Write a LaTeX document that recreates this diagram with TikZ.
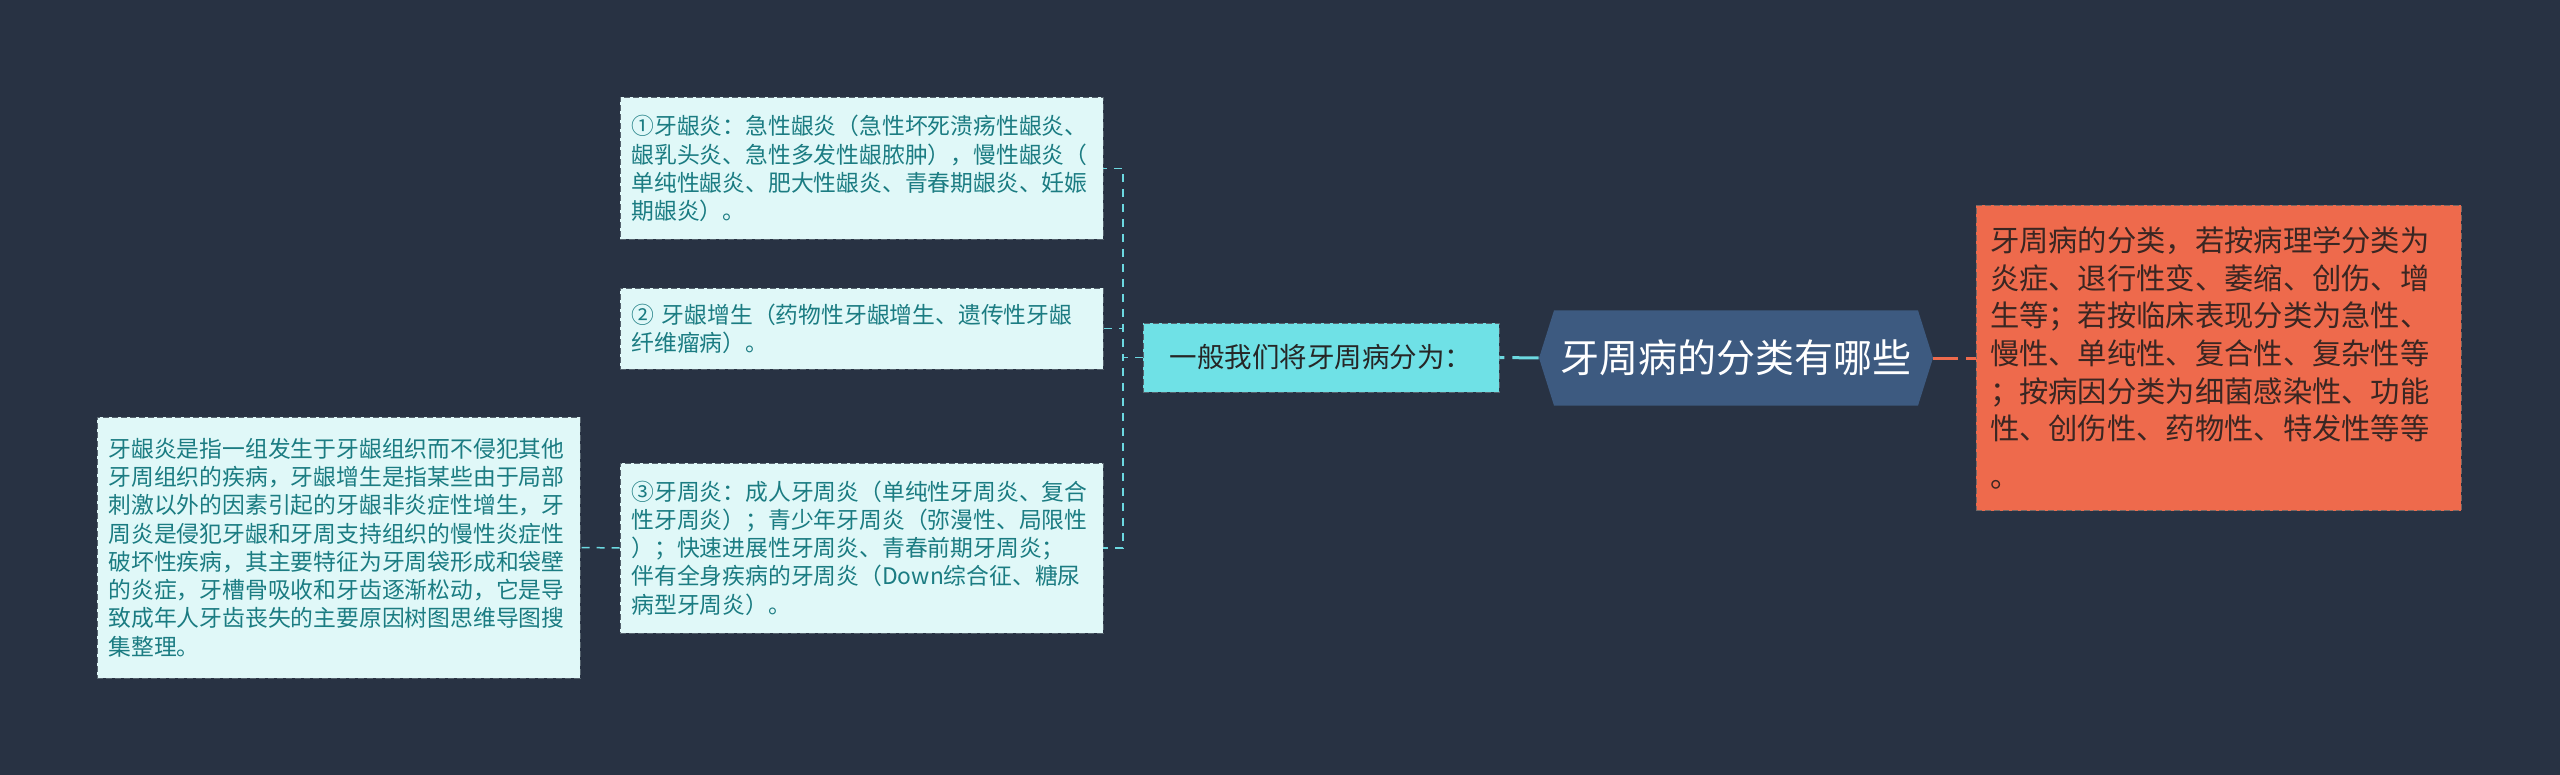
\documentclass[tikz,border=0pt]{standalone}
\usepackage{fontspec}
\setmainfont{Noto Sans CJK SC}
\usetikzlibrary{shapes.symbols}
\definecolor{bgdark}{HTML}{283243}
\definecolor{leaffill}{HTML}{E0F8F8}
\definecolor{leaftext}{HTML}{1B7C82}
\definecolor{leafedge}{HTML}{56636E}
\definecolor{midfill}{HTML}{6FE1E6}
\definecolor{hexfill}{HTML}{3D5A80}
\definecolor{orfill}{HTML}{EE6A4C}
\definecolor{ortext}{HTML}{3A2622}
\definecolor{linecyan}{HTML}{6CD9E1}

\begin{document}
\begin{tikzpicture}[x=0.5pt,y=-0.5pt,
  leaf/.style={draw=leafedge,dash pattern=on 3pt off 1.5pt,fill=leaffill,text=leaftext,
    align=left,text width=230pt,inner xsep=5.75pt,inner ysep=0pt,
    font=\fontsize{11.4pt}{14.15pt}\selectfont},
  leafline/.style={draw=linecyan,dash pattern=on 4pt off 3.5pt,line width=0.75pt}]
\fill[bgdark](0,0) rectangle (2560,775);
\node[leaf,minimum height=71pt] (gum) at (861.5,168.5)
  {①牙龈炎：急性龈炎（急性坏死溃疡性龈炎、\\龈乳头炎、急性多发性龈脓肿），慢性龈炎（\\单纯性龈炎、肥大性龈炎、青春期龈炎、妊娠\\期龈炎）。};
\node[leaf,minimum height=40.5pt] (hyper) at (861.5,328.5)
  {② 牙龈增生（药物性牙龈增生、遗传性牙龈\\纤维瘤病）。};
\node[leaf,minimum height=85pt] (perio) at (861.5,548)
  {③牙周炎：成人牙周炎（单纯性牙周炎、复合\\性牙周炎）；青少年牙周炎（弥漫性、局限性\\）；快速进展性牙周炎、青春前期牙周炎；\\伴有全身疾病的牙周炎（Down综合征、糖尿\\病型牙周炎）。};
\node[leaf,minimum height=130.5pt] (note) at (338.5,547.5)
  {牙龈炎是指一组发生于牙龈组织而不侵犯其他\\牙周组织的疾病，牙龈增生是指某些由于局部\\刺激以外的因素引起的牙龈非炎症性增生，牙\\周炎是侵犯牙龈和牙周支持组织的慢性炎症性\\破坏性疾病，其主要特征为牙周袋形成和袋壁\\的炎症，牙槽骨吸收和牙齿逐渐松动，它是导\\致成年人牙齿丧失的主要原因树图思维导图搜\\集整理。};
\node[draw=leafedge,dash pattern=on 3pt off 1.5pt,fill=midfill,text=black!85,
  minimum width=178pt,minimum height=34.5pt,inner sep=0pt,
  font=\fontsize{13.75pt}{16pt}\selectfont] (split) at (1321,357.5) {一般我们将牙周病分为：};
\node[signal,signal to=west and east,signal pointer angle=145,fill=hexfill,text=white,
  minimum width=197pt,minimum height=47.5pt,inner sep=0pt,
  font=\fontsize{19.5pt}{22pt}\selectfont] (root) at (1736,358) {牙周病的分类有哪些};
\node[draw=ortext!70,dash pattern=on 3pt off 1.5pt,fill=orfill,text=ortext,align=left,
  text width=228.5pt,inner xsep=7pt,inner ysep=0pt,minimum height=152.5pt,
  font=\fontsize{14.65pt}{18.85pt}\selectfont] (kinds) at (2218.5,358)
  {牙周病的分类，若按病理学分类为\\炎症、退行性变、萎缩、创伤、增\\生等；若按临床表现分类为急性、\\慢性、单纯性、复合性、复杂性等\\；按病因分类为细菌感染性、功能\\性、创伤性、药物性、特发性等等\\[5pt]。};
\coordinate (fork) at (1123,357.5);
\foreach \b in {gum,hyper,perio}{
  \draw[leafline](split.west)--(fork)|-(\b.east);}
\draw[leafline](perio.west)--(note.east);
\draw[linecyan,line width=1.5pt,dash pattern=on 2.5pt off 4pt on 15pt off 0pt](split.east)--(root.west);
\draw[orfill,line width=1.5pt,dash pattern=on 12.5pt off 4pt](root.east)--(kinds.west);
\end{tikzpicture}
\end{document}
